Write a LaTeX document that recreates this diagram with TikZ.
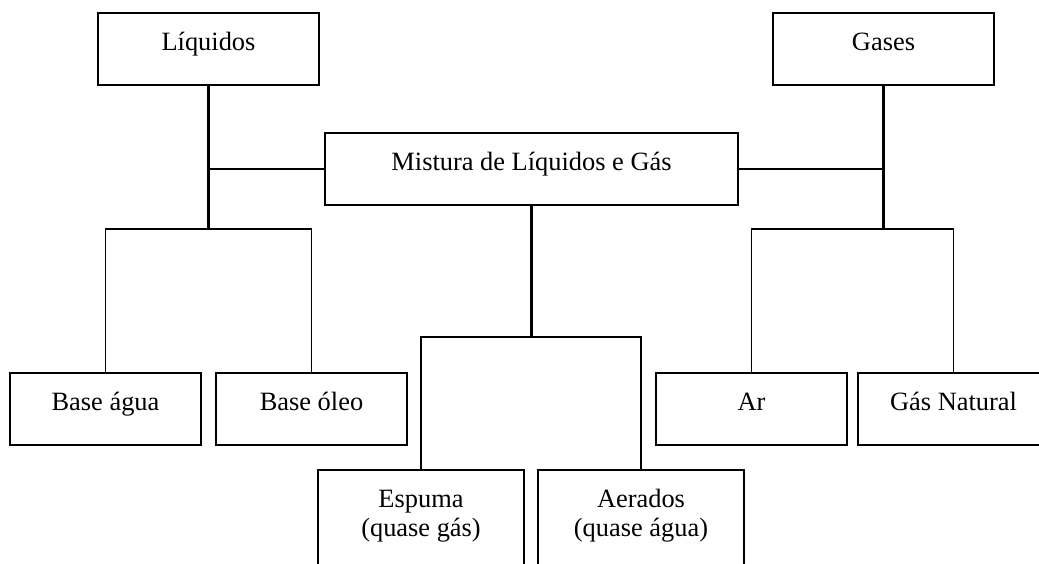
\documentclass[tikz,border=0pt]{standalone}
\usepackage{fontspec}
\setmainfont{Liberation Serif}
\tikzset{
	box/.style={draw, line width=1pt, inner sep=0pt, minimum height=36pt,
		text height=18.5pt, text depth=17.5pt},
	link/.style={line width=0.9pt},
	stem/.style={line width=1.4pt}
}

\begin{document}
\begin{tikzpicture}[x=0.5pt, y=-0.5pt, font=\fontsize{13.2}{14.5}\selectfont]

	\useasboundingbox (0,0) rectangle (1039,563);
	\clip (0,0) rectangle (1039,563);

	\node[box, minimum width=110.5pt] (liq) at (208.5,49) {Líquidos};
	\node[box, minimum width=110.5pt] (gas) at (883.5,49) {Gases};
	\node[box, minimum width=206.5pt] (mix) at (531.5,169) {Mistura de Líquidos e Gás};

	\node[box, minimum width=95.5pt] (bagua) at (105.5,409) {Base água};
	\node[box, minimum width=95.5pt] (boleo) at (311.5,409) {Base óleo};
	\node[box, minimum width=95.5pt] (ar) at (751.5,409) {Ar};
	\node[box, minimum width=95.5pt] (gnat) at (953.5,409) {Gás Natural};

	\node[box, minimum width=103pt, anchor=north, align=center, text height=33pt, text depth=40pt] (esp) at (421,469) {Espuma\\(quase gás)};
	\node[box, minimum width=103pt, anchor=north, align=center, text height=33pt, text depth=40pt] (aer) at (641,469) {Aerados\\(quase água)};

	\coordinate (lbar) at (208.5,229);
	\coordinate (gbar) at (883.5,229);
	\coordinate (mbar) at (531.5,337);

	\draw[stem] (liq.south) -- (lbar);
	\draw[stem] (gas.south) -- (gbar);
	\draw[stem, line width=1.1pt] (mix.south) -- (mbar);

	\draw[link] (liq.south |- mix.west) -- (mix.west);
	\draw[link] (mix.east) -- (gas.south |- mix.east);

	\draw[link] (bagua.north) |- (lbar) -| (boleo.north);
	\draw[link] (ar.north) |- (gbar) -| (gnat.north);
	\draw[link] (esp.north) |- (mbar) -| (aer.north);

\end{tikzpicture}
\end{document}
